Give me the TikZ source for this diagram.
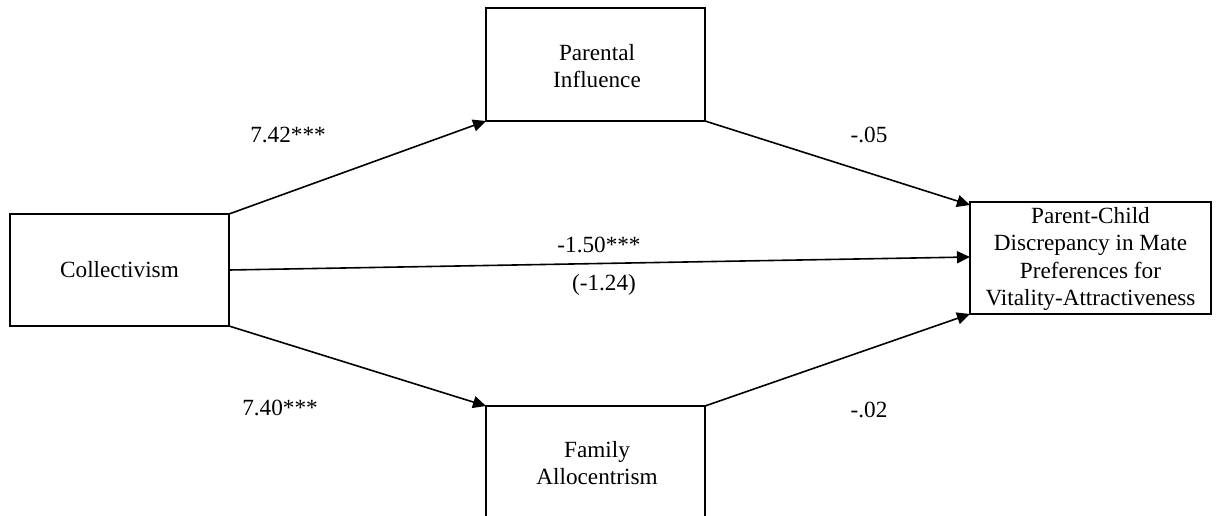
\documentclass[tikz,border=0pt]{standalone}
\usepackage{fontspec}
\setmainfont{Liberation Serif}
\usetikzlibrary{arrows.meta}
\begin{document}
\begin{tikzpicture}[x=0.5pt,y=-0.5pt,
  varbox/.style={draw,line width=1.1pt,inner sep=0pt},
  lbl/.style={font=\fontsize{11.6}{13.8}\selectfont,align=center,inner sep=0pt},
  path/.style={line width=0.8pt,-{Triangle[length=6.5pt,width=6pt]}}]
\clip (0,0) rectangle (1216,515);
\fill[white] (0,0) rectangle (1216,515);
% variable boxes
\draw[varbox] (10,214) rectangle (229,326);
\draw[varbox] (486,8) rectangle (705,121);
\draw[varbox] (486,406) rectangle (705,540);
\draw[varbox] (970,202) rectangle (1211,314);
% corner and anchor points
\coordinate (colTR) at (229,214);
\coordinate (colBR) at (229,326);
\coordinate (colR) at (229,270);
\coordinate (piBL) at (486,121);
\coordinate (piBR) at (705,121);
\coordinate (faTL) at (486,406);
\coordinate (faTR) at (705,406);
\coordinate (outTL) at (970,205);
\coordinate (outL) at (970,257);
\coordinate (outBL) at (970,314);
% box texts
\node[lbl] (col) at (119.5,270) {Collectivism};
\node[lbl] (pi) at (597,66) {Parental\\Influence};
\node[lbl] (fa) at (597,463) {Family\\Allocentrism};
\node[lbl] (out) at (1090.5,259) {Parent-Child\\Discrepancy in Mate\\Preferences for\\Vitality-Attractiveness};
% paths
\draw[path] (colTR) -- (piBL);
\draw[path] (colBR) -- (faTL);
\draw[path] (colR) -- (outL);
\draw[path] (piBR) -- (outTL);
\draw[path] (faTR) -- (outBL);
% coefficients
\node[lbl] (a1) at (288,135) {7.42***};
\node[lbl] (a2) at (280,408) {7.40***};
\node[lbl] (b1) at (869,135) {-.05};
\node[lbl] (b2) at (869,410) {-.02};
\node[lbl] (c) at (599,245) {-1.50***};
\node[lbl] (cp) at (604,285) {(-1.24)};
\end{tikzpicture}
\end{document}
